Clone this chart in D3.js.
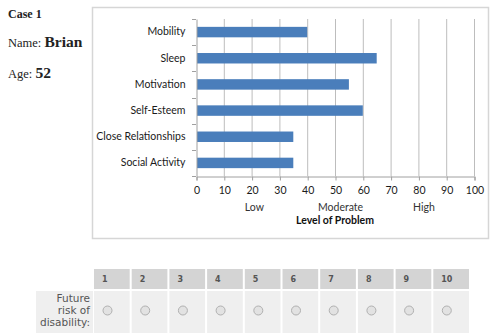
<!DOCTYPE html>
<html>
<head>
<meta charset="utf-8">
<script src="https://cdn.jsdelivr.net/npm/d3@7"></script>
<style>
  body { margin: 0; background: #fff; }
  svg { display: block; }
</style>
</head>
<body>
<svg id="svg" width="496" height="333"></svg>
<script>
// data
const categories = ['Mobility', 'Sleep', 'Motivation', 'Self-Esteem', 'Close Relationships', 'Social Activity'];
const values = [40, 65, 55, 60, 35, 35];
const xTicks = [0, 10, 20, 30, 40, 50, 60, 70, 80, 90, 100];
const levelLabels = ['Low', 'Moderate', 'High'];
const levelPos = [21, 52, 82];
const riskScale = [1, 2, 3, 4, 5, 6, 7, 8, 9, 10];
const rowLabel = ['Future', 'risk of', 'disability:'];

const svg = d3.select('#svg');
const chartFont = 'Lato, "Open Sans", sans-serif';

// patient info
const info = svg.append('g').attr('font-family', '"Liberation Serif", "Times New Roman", serif').attr('fill', '#222');
info.append('text').attr('x', 8).attr('y', 18).attr('font-size', 12).attr('font-weight', 'bold').text('Case 1');
const nm = info.append('text').attr('x', 8).attr('y', 47);
nm.append('tspan').attr('font-size', 12.5).text('Name: ');
nm.append('tspan').attr('font-size', 15.5).attr('font-weight', 'bold').text('Brian');
const ag = info.append('text').attr('x', 8).attr('y', 78);
ag.append('tspan').attr('font-size', 12.5).text('Age: ');
ag.append('tspan').attr('font-size', 15.5).attr('font-weight', 'bold').text('52');

// chart frame
svg.append('rect')
  .attr('x', 92.5).attr('y', 7.5).attr('width', 396).attr('height', 231)
  .attr('fill', '#fff').attr('stroke', '#d6d6d6').attr('stroke-width', 1.5);

const plot = {left: 196, right: 474, top: 19, bottom: 176};

const xScale = d3.scaleLinear().domain([0, 100]).range([plot.left, plot.right]);
const yScale = d3.scaleBand().domain(categories).range([plot.top, plot.bottom]).paddingInner(0.6).paddingOuter(0.3);
const yOuter = d3.scaleBand().domain(categories).range([plot.top, plot.bottom]);

// gridlines
svg.append('g').selectAll('line')
  .data(xTicks.slice(1))
  .enter().append('line')
  .attr('x1', d => xScale(d) + 0.5).attr('x2', d => xScale(d) + 0.5)
  .attr('y1', plot.top).attr('y2', plot.bottom)
  .attr('stroke', '#bdbdbd').attr('stroke-width', 1);

// bars
svg.append('g').selectAll('rect')
  .data(values)
  .enter().append('rect')
  .attr('x', xScale(0) + 1)
  .attr('y', (d, i) => yScale(categories[i]))
  .attr('width', d => xScale(d) - xScale(0) - 1)
  .attr('height', yScale.bandwidth())
  .attr('fill', '#4a7ebb');

// x axis
const xAxis = d3.axisBottom(xScale).tickValues(xTicks).tickSize(4).tickPadding(6);
const gx = svg.append('g').attr('transform', `translate(0.5,${plot.bottom + 0.5})`).call(xAxis);
gx.select('.domain').attr('stroke', '#a0a0a0');
gx.selectAll('.tick line').attr('stroke', '#a0a0a0');
gx.selectAll('.tick text').attr('font-family', chartFont).attr('font-size', 10.5).attr('fill', '#1a1a1a');

// y axis
const yAxis = d3.axisLeft(yOuter).tickSize(0).tickPadding(11);
const gy = svg.append('g').attr('transform', `translate(${plot.left + 0.5},0)`).call(yAxis);
gy.select('.domain').attr('stroke', '#a0a0a0');
gy.selectAll('.tick text').attr('font-family', chartFont).attr('font-size', 10.5).attr('fill', '#1a1a1a');
// category separators
svg.append('g').selectAll('line')
  .data(categories.concat(['end']))
  .enter().append('line')
  .attr('x1', plot.left - 4).attr('x2', plot.left)
  .attr('y1', (d, i) => Math.round(plot.top + i * yOuter.step()) + 0.5)
  .attr('y2', (d, i) => Math.round(plot.top + i * yOuter.step()) + 0.5)
  .attr('stroke', '#a0a0a0');

// level labels
svg.append('g').selectAll('text')
  .data(levelLabels)
  .enter().append('text')
  .attr('x', (d, i) => xScale(levelPos[i]))
  .attr('y', 211)
  .attr('text-anchor', 'middle')
  .attr('font-family', chartFont).attr('font-size', 10.5).attr('fill', '#333')
  .text(d => d);

svg.append('text')
  .attr('x', xScale(50)).attr('y', 224)
  .attr('text-anchor', 'middle')
  .attr('font-family', chartFont).attr('font-size', 10.5).attr('font-weight', 'bold').attr('fill', '#111')
  .text('Level of Problem');

// rating table
const colX = d3.scaleBand().domain(riskScale).range([94, 469]).paddingInner(2 / 37.5);
const tbl = svg.append('g');
tbl.selectAll('rect.head')
  .data(riskScale)
  .enter().append('rect').attr('class', 'head')
  .attr('x', d => colX(d)).attr('y', 269).attr('width', colX.bandwidth()).attr('height', 20)
  .attr('fill', '#d4d4d4');
tbl.selectAll('text.head')
  .data(riskScale)
  .enter().append('text').attr('class', 'head')
  .attr('x', d => colX(d) + 8).attr('y', 282)
  .attr('font-family', '"DejaVu Sans", Verdana, sans-serif').attr('font-size', 8).attr('font-weight', 'bold')
  .attr('fill', '#555')
  .text(d => d);
tbl.append('rect').attr('x', 36).attr('y', 291).attr('width', 57).attr('height', 42).attr('fill', '#efefef');
tbl.selectAll('rect.cell')
  .data(riskScale)
  .enter().append('rect').attr('class', 'cell')
  .attr('x', d => colX(d)).attr('y', 291).attr('width', colX.bandwidth()).attr('height', 42)
  .attr('fill', '#efefef');
tbl.selectAll('circle')
  .data(riskScale)
  .enter().append('circle')
  .attr('cx', d => colX(d) + 13.5).attr('cy', 310.5).attr('r', 4.5)
  .attr('fill', '#e2e2e2').attr('stroke', '#b0b0b0').attr('stroke-width', 1);
tbl.selectAll('text.row')
  .data(rowLabel)
  .enter().append('text').attr('class', 'row')
  .attr('x', 90).attr('y', (d, i) => 302 + i * 12)
  .attr('text-anchor', 'end')
  .attr('font-family', '"DejaVu Sans", Verdana, sans-serif').attr('font-size', 10.5)
  .attr('fill', '#555')
  .text(d => d);
</script>
</body>
</html>
